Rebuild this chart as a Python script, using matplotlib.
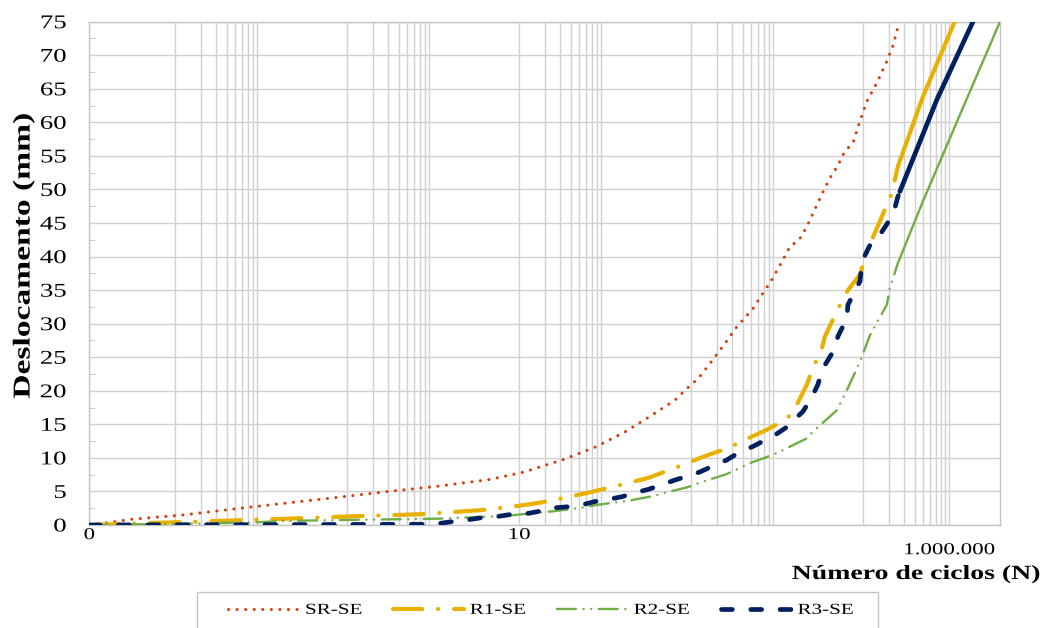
import numpy as np
import matplotlib
matplotlib.use("Agg")
import matplotlib.pyplot as plt
from matplotlib.ticker import FixedLocator, NullFormatter, MultipleLocator
from matplotlib.patheffects import AbstractPathEffect
from matplotlib.transforms import Affine2D
from matplotlib.patches import Rectangle

# Number of cycles (N) and displacement (mm) for each specimen
sr_n = [1e-4, 1.27e-4, 2.0e-4, 3.1e-4, 1.24e-3, 4.9e-3, 2.4e-2, 7.5e-2, 0.30, 1.17,
        4.65, 11.4, 33.4, 79.5, 177, 372, 646, 923, 1238, 1803, 2582, 3377, 5262,
        6879, 8610, 1.12e4, 1.41e4, 1.80e4, 2.20e4, 2.62e4, 3.28e4, 4.10e4, 4.99e4,
        6.13e4, 7.66e4, 8.75e4, 1.10e5, 1.43e5, 1.87e5, 2.23e5, 2.60e5]
sr_d = [0, 0.15, 0.5, 0.85, 1.5, 2.4, 3.4, 4.1, 5.0, 5.8, 6.8, 7.9, 9.8, 11.7, 14.0,
        16.6, 18.6, 20.5, 22.0, 24.7, 27.4, 29.5, 32.3, 34.6, 36.5, 39.1, 41.5, 42.5,
        44.4, 46.5, 49.2, 51.7, 53.4, 55.7, 57.0, 59.4, 63.1, 65.8, 69.0, 71.5, 74.8]

r1_n = [1e-4, 5.1e-4, 1.9e-3, 6.5e-3, 0.028, 0.12, 0.70, 3.5, 8.0, 17, 27, 63, 133,
        314, 646, 1400, 2600, 4570, 7590, 1.23e4, 1.41e4, 1.69e4, 2.21e4, 2.60e4,
        3.31e4, 3.59e4, 5.37e4, 6.64e4, 9.16e4, 1.14e5, 1.44e5, 2.15e5, 2.53e5,
        4.94e5, 1.16e6]
r1_d = [0, 0.3, 0.5, 0.75, 1.0, 1.3, 1.6, 2.2, 2.7, 3.3, 3.8, 4.8, 5.8, 7.0, 8.5,
        10.2, 11.4, 12.9, 14.2, 15.6, 16.4, 17.9, 20.9, 23.4, 26.3, 28.1, 32.8, 35.0,
        37.3, 41.2, 44.2, 49.4, 53.4, 63.8, 75]

r2_n = [1e-4, 3.4e-4, 1.41e-3, 2.4e-3, 4.9e-3, 8.5e-3, 0.019, 0.032, 0.094, 0.34,
        1.2, 3.7, 6.3, 10.7, 13.3, 27, 54, 80, 184, 267, 358, 612, 890, 1260, 2600,
        5210, 6810, 1.07e4, 1.52e4, 2.21e4, 2.60e4, 4.94e4, 6.46e4, 9.16e4, 1.20e5,
        1.88e5, 2.04e5, 2.53e5, 4.94e5, 1.33e6, 3.9e6]
r2_d = [0, 0.1, 0.2, 0.25, 0.35, 0.4, 0.6, 0.65, 0.75, 0.85, 0.95, 1.2, 1.3, 1.6,
        1.7, 2.1, 2.6, 3.0, 3.6, 4.0, 4.3, 5.1, 5.6, 6.3, 7.6, 9.4, 9.9, 10.9, 11.9,
        12.9, 13.9, 17.1, 20.1, 24.3, 28.3, 32.8, 35.3, 39.0, 48.2, 61.1, 75]

r3_n = [1e-4, 0.80, 1.13, 1.65, 2.47, 3.68, 5.5, 8.2, 12.3, 16.5, 22.7, 35.5, 53.5,
        76, 107, 155, 221, 316, 457, 646, 916, 1260, 1790, 2600, 3490, 5210, 9400,
        1.23e4, 1.52e4, 1.74e4, 1.99e4, 2.28e4, 2.60e4, 2.97e4, 3.40e4, 3.78e4,
        4.69e4, 5.08e4, 6.46e4, 6.64e4, 9.16e4, 9.66e4, 1.05e5, 1.20e5, 1.44e5,
        1.65e5, 2.04e5, 2.33e5, 2.53e5, 2.67e5, 7.2e5, 1.89e6]
r3_d = [0, 0.1, 0.2, 0.5, 0.75, 1.1, 1.25, 1.6, 1.7, 2.0, 2.5, 2.7, 3.0, 3.5, 3.8,
        4.2, 4.8, 5.3, 6.0, 6.7, 7.3, 7.9, 8.8, 9.7, 10.7, 11.7, 13.4, 14.4, 15.2,
        16.2, 16.9, 18.1, 19.4, 20.9, 23.4, 24.3, 26.3, 28.1, 30.8, 32.8, 36.3, 38.7,
        40.2, 41.7, 43.0, 43.7, 45.5, 47.2, 48.9, 49.7, 63.4, 75]

series_names = ["SR-SE", "R1-SE", "R2-SE", "R3-SE"]

x_major = [1e-4, 1e1, 1e6]
x_major_labels = ["0", "10", "1.000.000"]
x_limits = (1e-4, 3.9e6)
y_limits = (0, 75)


class WideText(AbstractPathEffect):
    """Draw text glyphs widened along the text direction."""

    def __init__(self, sx=1.38, anchor="center"):
        super().__init__()
        self._sx = sx
        self._anchor = anchor

    def draw_path(self, renderer, gc, tpath, affine, rgbFace=None):
        ext = tpath.get_extents()
        if self._anchor == "left":
            cx = 0.0
        elif self._anchor == "right":
            cx = ext.x1
        else:
            cx = 0.5 * (ext.x0 + ext.x1)
        widen = Affine2D().translate(-cx, 0).scale(self._sx, 1.0).translate(cx, 0)
        renderer.draw_path(gc, tpath, widen + affine, rgbFace)


SX = 1.38
plt.rcParams["font.family"] = ["Liberation Serif", "DejaVu Serif"]

W, H = 1044, 628
fig = plt.figure(figsize=(W / 100, H / 100), dpi=100)
ax = fig.add_axes([89.3 / W, 103 / H, 910.7 / W, 503.3 / H])

grid_c = "#d0d0d0"


def draw_series(n, d, color, lw, dashes, label, solid_from=None):
    """Patterned line; where the recorded points get dense the pattern closes up
    into a continuous stroke."""
    if solid_from is None:
        ax.plot(n, d, color=color, lw=lw, linestyle=(0, dashes),
                dash_capstyle="round", label=label, zorder=3)
        return
    ax.plot(n[:solid_from + 1], d[:solid_from + 1], color=color, lw=lw,
            linestyle=(0, dashes), dash_capstyle="round", label=label, zorder=3)
    ax.plot(n[solid_from:], d[solid_from:], color=color, lw=lw, linestyle="-",
            solid_capstyle="round", zorder=3)


draw_series(sr_n, sr_d, "#d4400e", 2.2, (0.05, 2.75), series_names[0])
draw_series(r1_n, r1_d, "#e8b000", 3.0, (7.0, 3.8, 0.05, 3.8), series_names[1],
            solid_from=32)
draw_series(r2_n, r2_d, "#70ad47", 1.7, (8.0, 3.2, 0.05, 3.2, 0.05, 3.2),
            series_names[2], solid_from=37)
draw_series(r3_n, r3_d, "#002060", 3.4, (2.3, 3.9), series_names[3], solid_from=49)

ax.set_xscale("log")
ax.set_xlim(*x_limits)
ax.set_ylim(*y_limits)

# log axis: major lines every five decades, minor lines on alternate decades
minor_x = [k * 10.0 ** e for e in (-3, -1, 1, 3, 5) for k in range(1, 10)
           if not (e == 1 and k == 1)]
ax.xaxis.set_major_locator(FixedLocator(x_major))
ax.set_xticklabels(x_major_labels)
ax.xaxis.set_minor_locator(FixedLocator(minor_x))
ax.xaxis.set_minor_formatter(NullFormatter())

ax.yaxis.set_major_locator(MultipleLocator(5))
ax.yaxis.set_minor_locator(MultipleLocator(2.5))

ax.grid(True, which="major", color=grid_c, lw=1.0)
ax.grid(True, which="minor", axis="x", color=grid_c, lw=1.0)
ax.set_axisbelow(True)

for s in ax.spines.values():
    s.set_color("#c4c4c4")
    s.set_linewidth(1.0)

ax.tick_params(axis="x", which="both", length=0, labelsize=12, pad=1.5)
ax.tick_params(axis="y", which="major", length=0, labelsize=14, pad=16.5)
ax.tick_params(axis="y", which="minor", length=4, direction="in", color="#c4c4c4")

for lab in ax.get_yticklabels():
    lab.set_path_effects([WideText(SX, "right")])
for lab in ax.get_xticklabels():
    lab.set_path_effects([WideText(SX, "center")])
# the last x label sits a little lower, just above the axis title
ax.xaxis.get_major_ticks()[2].label1.set_y(-0.030)

ylab = fig.text(24 / W, 1 - 256 / H, "Deslocamento (mm)", rotation=90, ha="center",
                va="center", fontsize=17.5, fontweight="bold")
ylab.set_path_effects([WideText(SX, "center")])
xlab = fig.text(1040 / W, 1 - 579 / H, "Número de ciclos (N)", ha="right",
                va="baseline", fontsize=14.5, fontweight="bold")
xlab.set_path_effects([WideText(SX, "right")])

fs_leg = 11
px_per_em = fs_leg * 100 / 72
leg = fig.legend(loc="center left", bbox_to_anchor=(228 / W, 1 - 610 / H), ncol=4,
                 fontsize=fs_leg, frameon=False, handlelength=71 / px_per_em,
                 columnspacing=46 / px_per_em, handletextpad=6 / px_per_em,
                 borderpad=0, borderaxespad=0)
for t in leg.get_texts():
    t.set_path_effects([WideText(SX, "left")])

fig.patches.append(Rectangle((197 / W, -0.01), 681 / W, (1 - 592 / H) + 0.01,
                             transform=fig.transFigure, fill=False,
                             edgecolor="#c4c4c4", lw=1.0))

fig.savefig("out.png", dpi=100)
